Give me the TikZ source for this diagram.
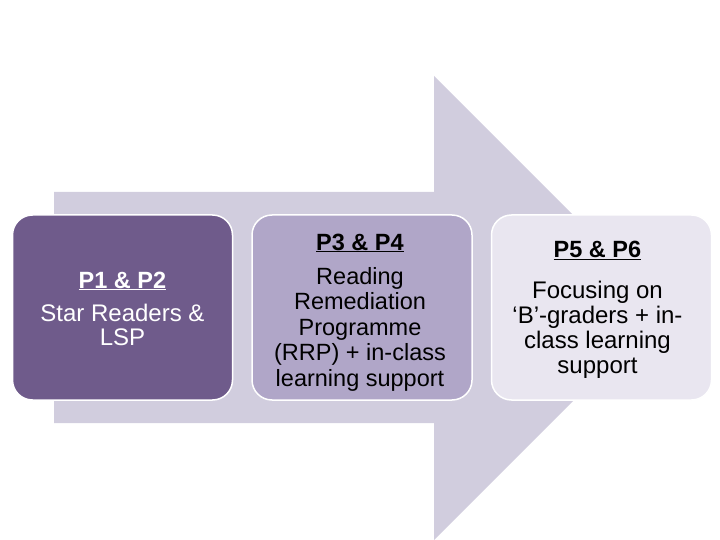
\documentclass[tikz,border=0pt]{standalone}
\usepackage{fontspec}
\setmainfont{Liberation Sans}
\usepackage{xcolor}
\usepackage{tikz}
\usetikzlibrary{positioning}

\definecolor{arrowfill}{HTML}{D1CDDE}
\definecolor{stageA}{HTML}{6F5B8B}
\definecolor{stageB}{HTML}{B0A6C8}
\definecolor{stageC}{HTML}{E9E6F0}

\begin{document}
\begin{tikzpicture}[
  x=1pt, y=-1pt,
  stage/.style={rounded corners=20pt, draw=white, line width=1.5pt, minimum width=220pt, minimum height=185pt, inner sep=0pt},
  heading/.style={anchor=base, inner sep=0pt, font=\fontsize{23.5}{25}\selectfont\bfseries},
  body/.style={anchor=base, inner sep=0pt, align=center}
]
  \useasboundingbox (0,0) rectangle (720,540);
  % big arrow behind the stages
  \fill[arrowfill] (54,192) -- (434,192) -- (434,76) -- (666,308) -- (434,540) -- (434,423) -- (54,423) -- cycle;

  % the three stages
  \node[stage, fill=stageA] (P12) at (122.5,307.5) {};
  \node[stage, fill=stageB, right=18pt of P12] (P34) {};
  \node[stage, fill=stageC, right=18pt of P34] (P56) {};

  % texts (base = last line)
  \node[heading, text=white] (P12title) at (122.5,288) {\underline{P1 \& P2}};
  \node[body, text=white, font=\fontsize{24}{24}\selectfont] (P12text) at (122.5,345) {Star Readers \&\\ LSP};

  \node[heading] (P34title) at (360,250) {\underline{P3 \& P4}};
  \node[body, font=\fontsize{23.5}{25.5}\selectfont] (P34text) at (360,386) {Reading\\ Remediation\\ Programme\\ (RRP) + in-class\\ learning support};

  \node[heading] (P56title) at (597.5,258) {\underline{P5 \& P6}};
  \node[body, font=\fontsize{24}{25}\selectfont] (P56text) at (597.5,373) {Focusing on\\ ‘B’-graders + in-\\ class learning\\ support};
\end{tikzpicture}
\end{document}
